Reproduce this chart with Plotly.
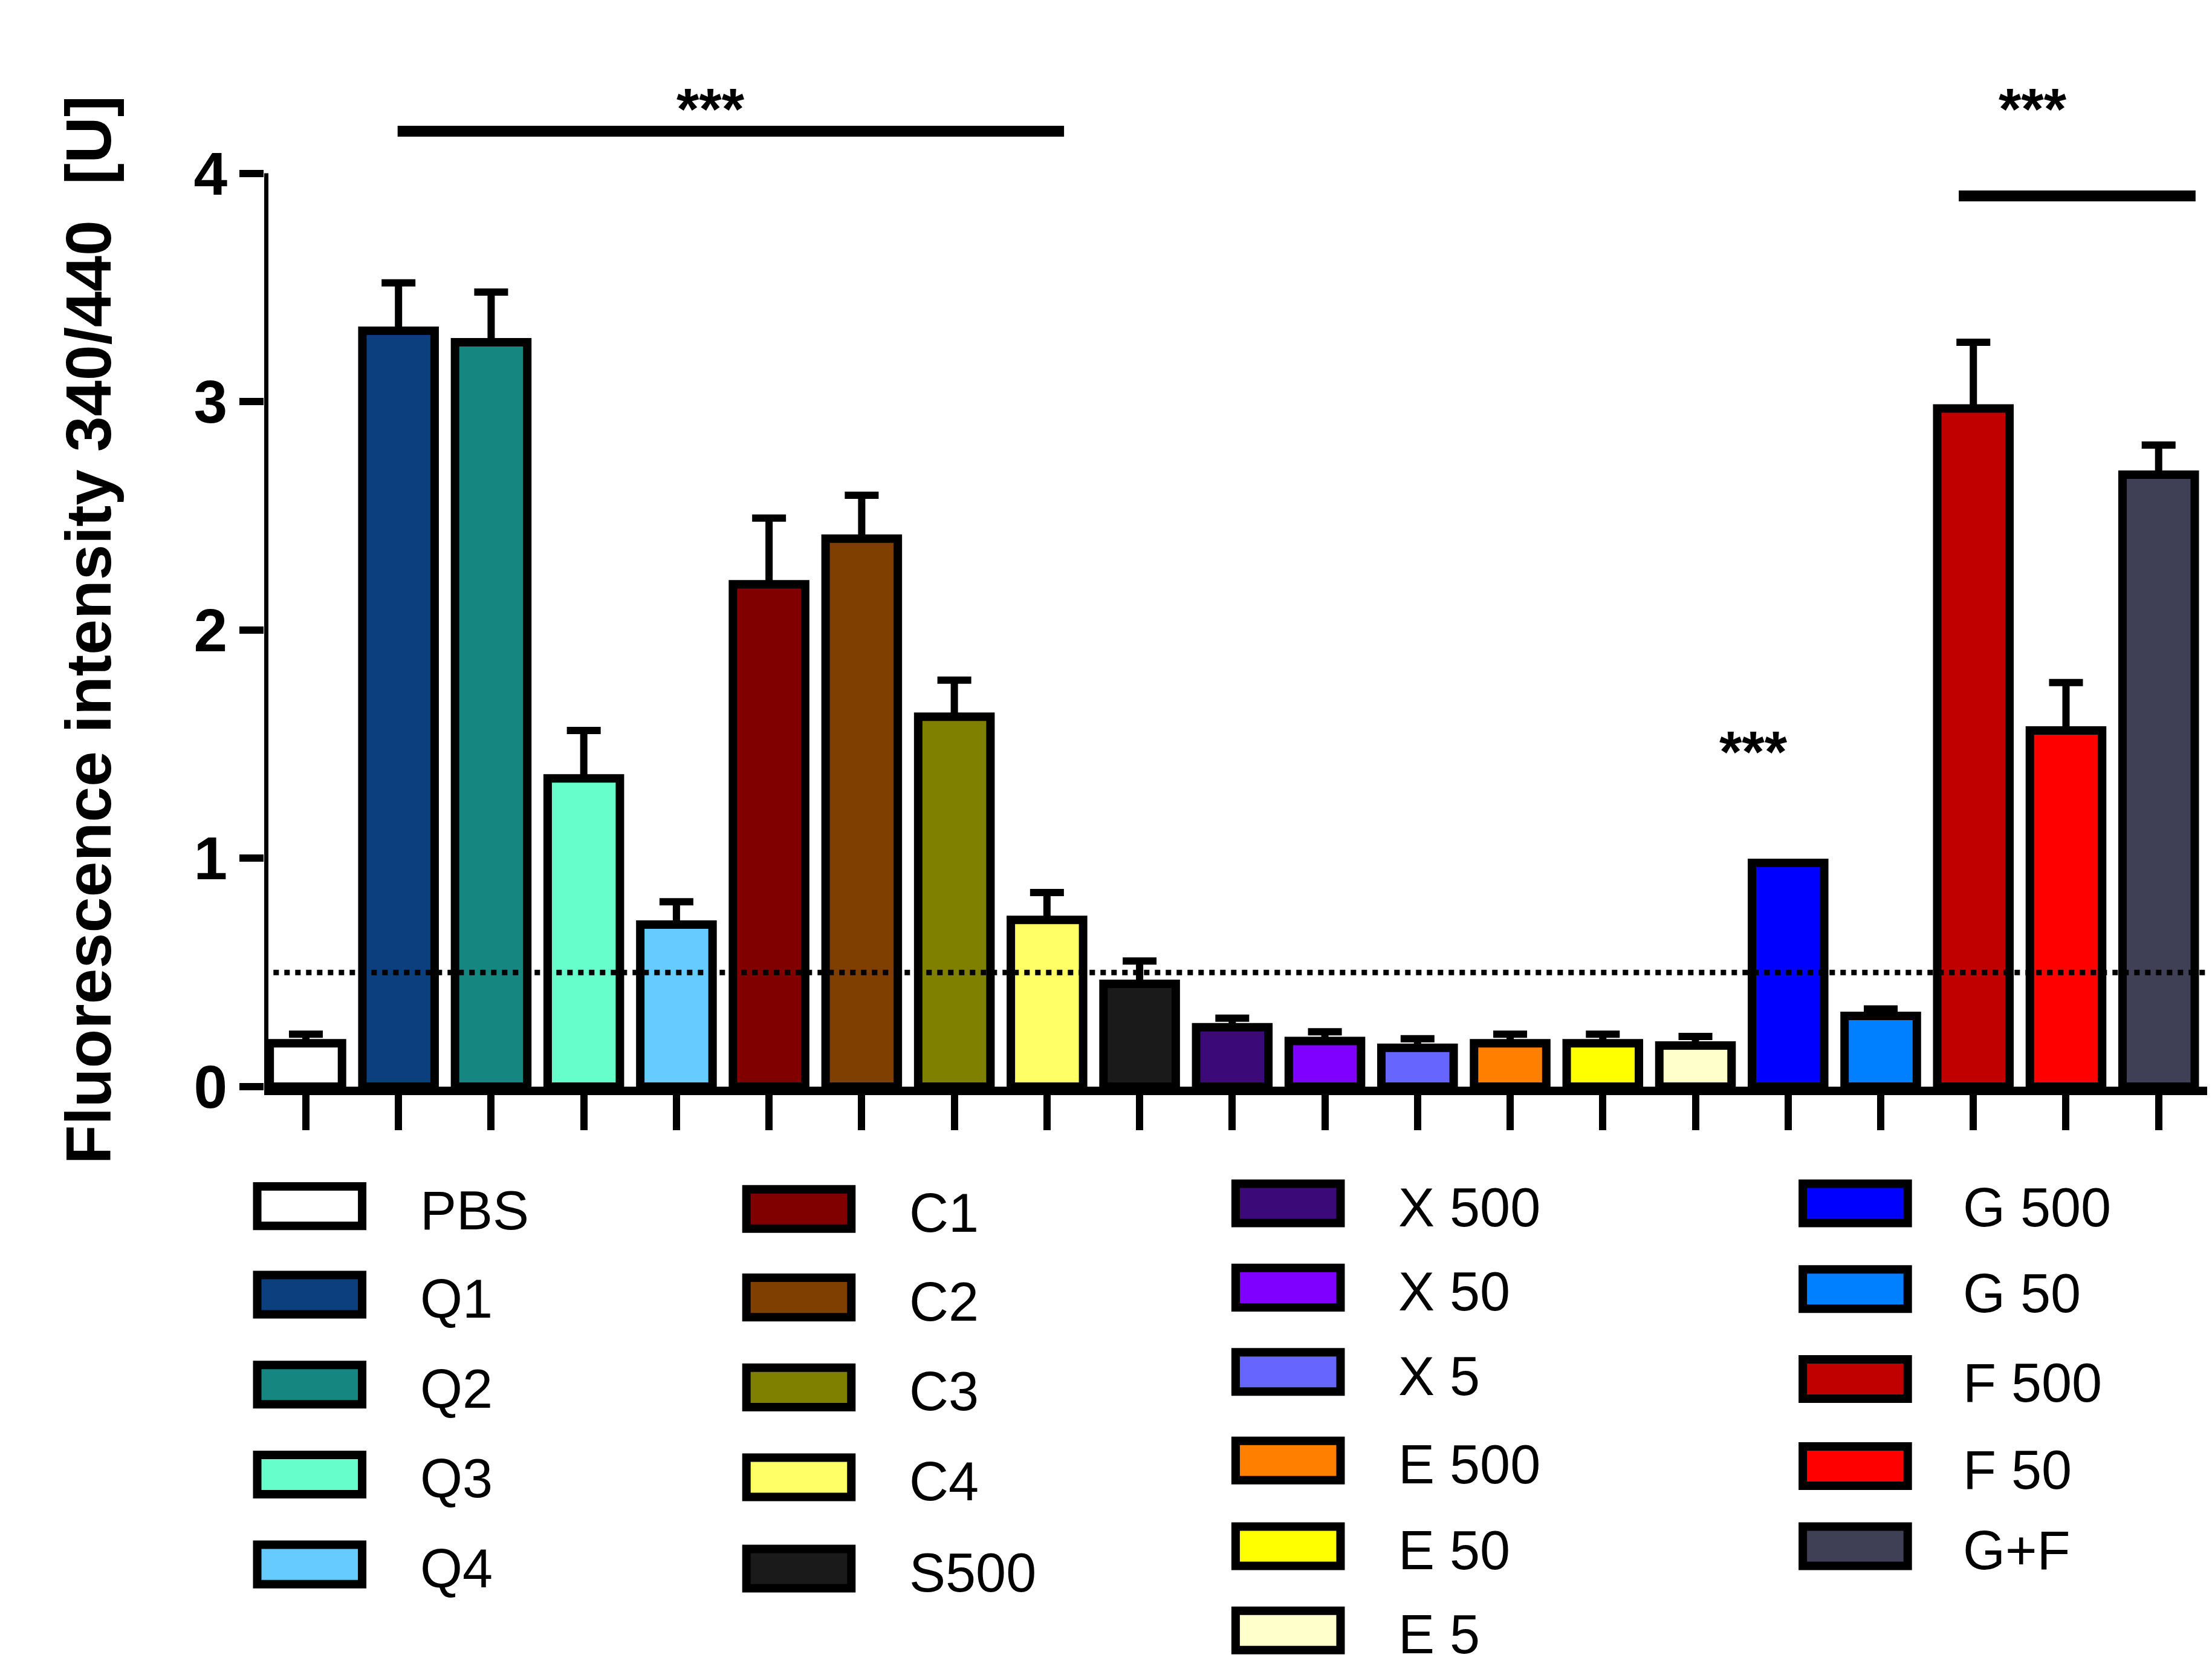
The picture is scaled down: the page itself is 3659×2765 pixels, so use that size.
import plotly.graph_objects as go

categories = ["PBS","Q1","Q2","Q3","Q4","C1","C2","C3","C4","S500","X 500","X 50","X 5","E 500","E 50","E 5","G 500","G 50","F 500","F 50","G+F"]
values = [0.19,3.31,3.26,1.35,0.71,2.20,2.40,1.62,0.73,0.45,0.26,0.20,0.17,0.19,0.19,0.18,0.98,0.31,2.97,1.56,2.68]
errors = [0.04,0.21,0.22,0.21,0.10,0.29,0.19,0.16,0.12,0.10,0.04,0.04,0.04,0.04,0.04,0.04,0.0,0.03,0.29,0.21,0.13]
colors = ["#ffffff","#0b3f7d","#158680","#66ffcc","#66ccff","#800000","#7f3f00","#808000","#ffff66","#1a1a1a",
          "#3c0a78","#7f00ff","#6666ff","#ff8000","#ffff00","#ffffcc","#0000ff","#0080ff","#c00000","#ff0000","#3f3f55"]
legend_cols = [[0,1,2,3,4],[5,6,7,8,9],[10,11,12,13,14,15],[16,17,18,19,20]]

W, H = 3659, 2765
L, R, T, B = 429, 12, 52, 976
sx, sy = W/1560, H/1190
pw, ph = W-L-R, H-T-B
def px(xd): return (xd*sx - L)/pw
def py(yd): return (H - B - yd*sy)/ph

fig = go.Figure(go.Bar(
    x=list(range(len(categories))), y=values, width=0.78,
    marker=dict(color=colors, line=dict(color="black", width=14)),
    error_y=dict(type="data", symmetric=False, array=errors, arrayminus=[0]*len(errors),
                 color="black", thickness=12, width=28),
    showlegend=False))

star_font = dict(size=96, family="Liberation Sans", color="black")
shapes = [
    dict(type="line", xref="x", yref="y", x0=-0.45, x1=-0.45, y0=0, y1=4.0, line=dict(color="black", width=14)),
    dict(type="line", xref="x", yref="y", x0=-0.35, x1=20.5, y0=0.5, y1=0.5, line=dict(color="black", width=9, dash="dot")),
    dict(type="line", xref="paper", yref="paper", x0=px(277), x1=px(747), y0=py(90), y1=py(90), line=dict(color="black", width=18)),
    dict(type="line", xref="paper", yref="paper", x0=px(1378), x1=px(1545), y0=py(136), y1=py(136), line=dict(color="black", width=18)),
]
annotations = [
    dict(x=px(473), y=py(50), xref="paper", yref="paper", text="<b>***</b>", showarrow=False, font=star_font),
    dict(x=px(1455), y=py(50), xref="paper", yref="paper", text="<b>***</b>", showarrow=False, font=star_font),
    dict(x=px(1258), y=py(555), xref="paper", yref="paper", text="<b>***</b>", showarrow=False, font=star_font),
    dict(x=px(33), y=py(445), xref="paper", yref="paper", text="<b>Fluorescence intensity 340/440  [U]</b>",
         textangle=-90, showarrow=False, font=dict(size=106, family="Liberation Sans", color="black")),
]
sw_x = [178, 523, 868, 1268]
tx_x = [292, 637, 982, 1380]
row_y = [[855,918,982,1046,1110],[857,920,984,1048,1113],[853,913,973,1036,1097,1157],[853,914,978,1040,1097]]
for c, idxs in enumerate(legend_cols):
    for r, i in enumerate(idxs):
        yc = row_y[c][r]
        shapes.append(dict(type="rect", xref="paper", yref="paper",
                           x0=px(sw_x[c]), x1=px(sw_x[c]+74), y0=py(yc+14), y1=py(yc-14),
                           fillcolor=colors[i], line=dict(color="black", width=14)))
        annotations.append(dict(x=px(tx_x[c]), y=py(yc+3), xref="paper", yref="paper", text=categories[i],
                                xanchor="left", yanchor="middle", showarrow=False,
                                font=dict(size=90, family="Liberation Sans", color="black")))

fig.update_layout(
    width=W, height=H, margin=dict(l=L, r=R, t=T, b=B),
    plot_bgcolor="white", paper_bgcolor="white",
    shapes=shapes, annotations=annotations,
    xaxis=dict(range=[-0.45, 20.55], tickvals=list(range(21)), showticklabels=False,
               ticks="outside", ticklen=58, tickwidth=12, tickcolor="black",
               showline=True, linewidth=14, linecolor="black", showgrid=False, zeroline=False),
    yaxis=dict(range=[0, 4.6], tickvals=[0,1,2,3,4], ticktext=["<b>0</b>","<b>1</b>","<b>2</b>","<b>3</b>","<b>4</b>"],
               ticks="outside", ticklen=40, tickwidth=12, tickcolor="black",
               tickfont=dict(size=100, family="Liberation Sans", color="black"),
               showline=False, showgrid=False, zeroline=False),
)
fig.write_html("out.html")
